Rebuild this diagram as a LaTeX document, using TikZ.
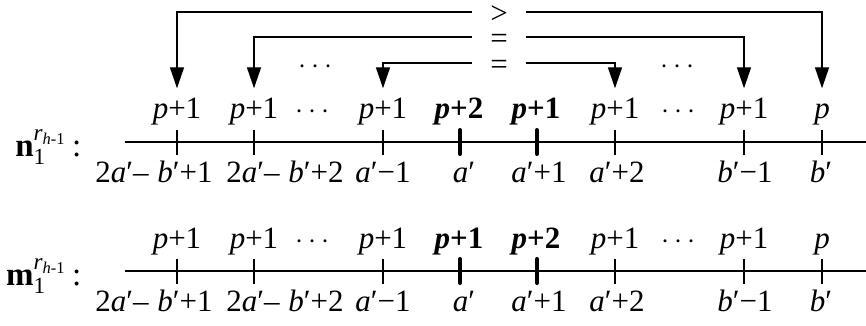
\documentclass[tikz,border=0pt]{standalone}
\usepackage{fontspec}
\setmainfont{Liberation Serif}
\usepackage{amsmath}
\usetikzlibrary{arrows.meta}

\tikzset{
  lab/.style={inner sep=0pt, anchor=base, text height=10pt, text depth=3pt},
  thicktick/.style={line width=2pt, line cap=round},
  cmp/.style={inner sep=0pt, minimum width=26pt, anchor=base, text height=12pt, text depth=-5pt},
  arr/.style={-{Triangle[length=10.5pt,width=7pt]}, shorten >=5pt},
}

\begin{document}
\begin{tikzpicture}[x=0.5pt,y=-0.5pt,line width=0.7pt,font=\fontsize{15.5}{18}\selectfont]
        \useasboundingbox (0,0) rectangle (866,326);
        \foreach \rw/\y/\nm/\pa/\pb in {1/142/n/2/1, 2/271/m/1/2} {
          \draw (125,\y) -- (866,\y);
          \node[anchor=base east, inner sep=0pt, font=\fontsize{16.5}{19}\selectfont] (row\rw) at (82,\y+14) {$\textbf{\nm}_{\text{1}}^{\textit{r}_{\textit{h}\text{-1}}}$\,:};
          \foreach \col/\x/\lx/\up/\dn in {
              1/177/154/{\textit{p}+1}/{2\textit{a}′–\;\textit{b}′+1},
              2/254/285/{\textit{p}+1}/{2\textit{a}′–\;\textit{b}′+2},
              3/383/383/{\textit{p}+1}/{\textit{a}′−1},
              6/615/617/{\textit{p}+1}/{\textit{a}′+2},
              7/744/745/{\textit{p}+1}/{\textit{b}′−1},
              8/822/821/{\textit{p}}/{\textit{b}′}} {
            \draw (\x,\y-12.5) -- (\x,\y+12.5);
            \node[lab] (up\rw\col) at (\x,\y-23) {\up};
            \node[lab] (dn\rw\col) at (\lx,\y+40) {\dn};
          }
          \draw[thicktick] (460,\y-12) -- (460,\y+12) (537,\y-12) -- (537,\y+12);
          \node[lab] (up\rw4) at (459,\y-23) {\textbf{\textit{p}+\pa}};
          \node[lab] (up\rw5) at (536,\y-23) {\textbf{\textit{p}+\pb}};
          \node[lab] (dn\rw4) at (464,\y+40) {\textit{a}′};
          \node[lab] (dn\rw5) at (539,\y+40) {\textit{a}′+1};
          \node[lab] (dots\rw a) at (315,\y-23) {$\cdots$};
          \node[lab] (dots\rw b) at (681,\y-23) {$\cdots$};
        }
        \node[cmp] (gt) at (499,24) {>};
        \node[cmp] (eqa) at (499,49) {=};
        \node[cmp] (eqb) at (499,75) {=};
        \node[lab] (dotsa) at (318,74) {$\cdots$};
        \node[lab] (dotsb) at (680,74) {$\cdots$};
        \draw[arr] (gt.west) -| (up11.north);
        \draw[arr] (gt.east) -| (up18.north);
        \draw[arr] (eqa.west) -| (up12.north);
        \draw[arr] (eqa.east) -| (up17.north);
        \draw[arr] (eqb.west) -| (up13.north);
        \draw[arr] (eqb.east) -| (up16.north);
    \end{tikzpicture}
\end{document}
